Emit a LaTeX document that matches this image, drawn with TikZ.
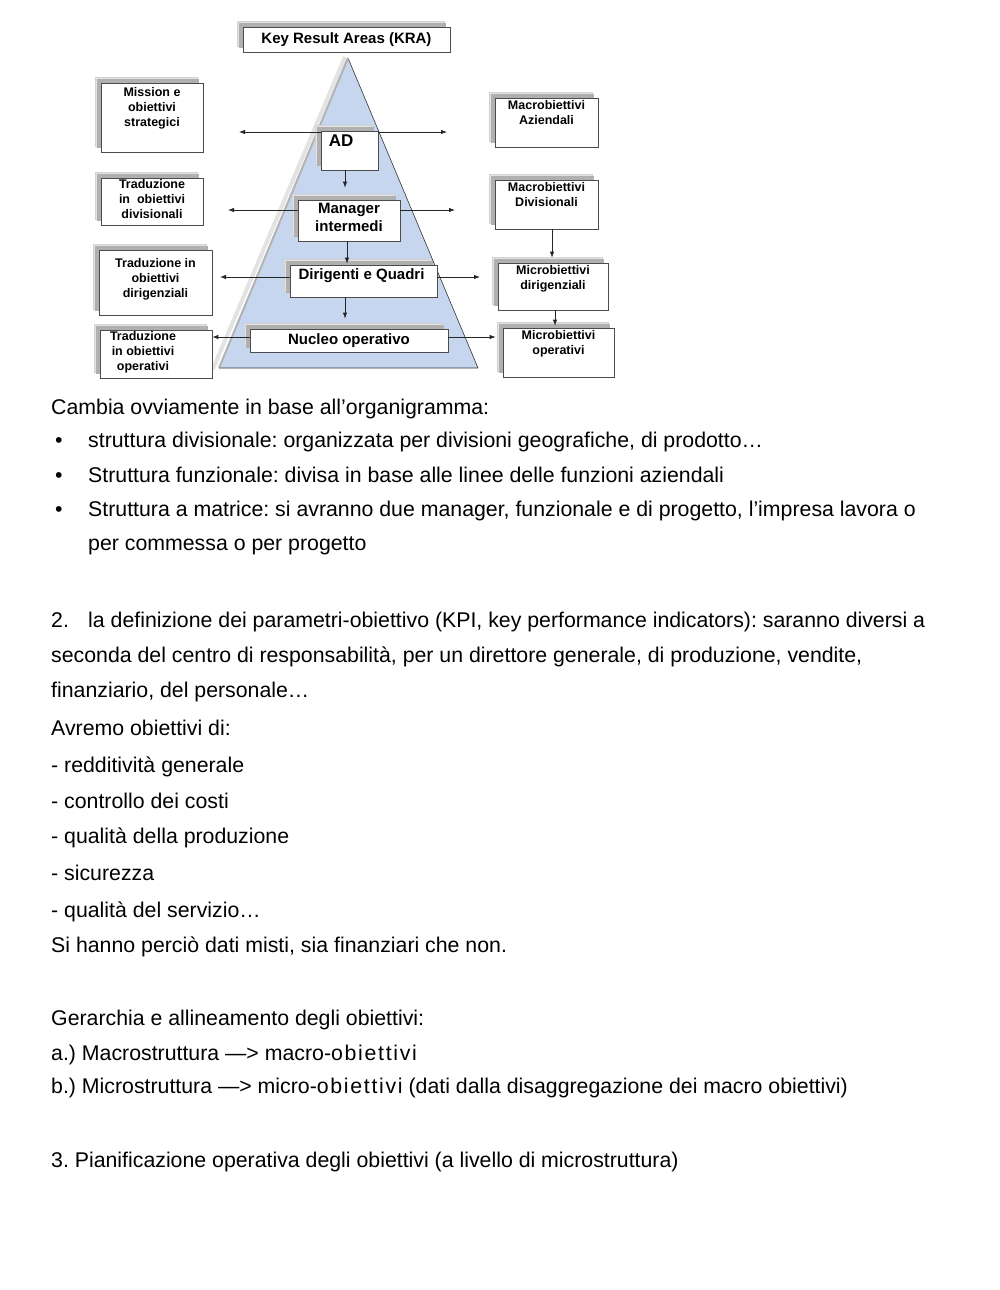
\documentclass[tikz,border=0pt]{standalone}
\usepackage{fontspec}
\setmainfont{Liberation Sans}
\usetikzlibrary{shadows,arrows.meta,calc}
\definecolor{pyr}{RGB}{198,214,238}
\frenchspacing
\begin{document}
\begin{tikzpicture}[x=1pt,y=-1pt,
  sbox/.style={draw=black!70, line width=0.7pt, fill=white, inner sep=0pt,
    copy shadow={shadow xshift=-6pt, shadow yshift=6pt, fill=gray!22, draw=gray!35},
    copy shadow={shadow xshift=-4pt, shadow yshift=4pt, fill=gray!62, draw=none}},
  lbl/.style={font=\bfseries\fontsize{12.5}{15}\selectfont, align=center, inner sep=0pt},
  plbl/.style={font=\bfseries\fontsize{15}{18}\selectfont, align=center, inner sep=0pt},
  arr/.style={draw=black!85, line width=0.8pt, -{Latex[length=6pt,width=4.5pt]}},
  body/.style={anchor=base west, inner sep=0pt, font=\fontsize{21.3}{25}\selectfont},
]
\fill[white] (0,0) rectangle (1000,1290);
\useasboundingbox (0,0) rectangle (1000,1290);

% pyramid
\fill[pyr] (348,58) -- (219,368) -- (478,368) -- cycle;
\draw[black!80, line width=0.6pt] (348,58) -- (478,368) -- (219,368);
\draw[gray!22, line width=4pt] (345,57) -- (213,369);
\draw[gray!60, line width=2pt] (348,58) -- (219,368);

% pyramid boxes
\node[sbox, minimum width=207pt, minimum height=25pt] (kra) at (346.5,39.5) {};
\node[plbl] (kraT) at (kra.center) {Key Result Areas (KRA)};
\node[sbox, minimum width=57pt, minimum height=39pt] (ad) at (349.5,150.5) {};
\node[plbl, font=\bfseries\fontsize{17}{20}\selectfont, anchor=north west] (adT) at ([xshift=8pt,yshift=-4pt]ad.north west) {AD};
\node[sbox, minimum width=102pt, minimum height=41pt] (mgr) at (349,220.5) {};
\node[plbl, anchor=north] (mgrT) at ([yshift=-3pt]mgr.north) {Manager\\intermedi};
\node[sbox, minimum width=147pt, minimum height=32pt] (dq) at (363.5,281) {};
\node[plbl, anchor=north] (dqT) at ([yshift=-4pt,xshift=-2pt]dq.north) {Dirigenti e Quadri};
\node[sbox, minimum width=198pt, minimum height=23pt] (nuc) at (349,340.5) {};
\node[plbl] (nucT) at (nuc.center) {Nucleo operativo};

% left boxes
\node[sbox, minimum width=102pt, minimum height=69pt] (m1) at (152,117.5) {};
\node[lbl, anchor=north] (m1T) at ([yshift=-5pt]m1.north) {Mission e\\obiettivi\\strategici};
\node[sbox, minimum width=102pt, minimum height=47pt] (m2) at (152,201.5) {};
\node[lbl, anchor=north] (m2T) at ([yshift=-2pt]m2.north) {Traduzione\\in\ \ obiettivi\\divisionali};
\node[sbox, minimum width=113pt, minimum height=65pt] (m3) at (155.5,282.5) {};
\node[lbl, anchor=north] (m3T) at ([yshift=-9pt]m3.north) {Traduzione in\\obiettivi\\dirigenziali};
\node[sbox, minimum width=112pt, minimum height=48pt] (m4) at (156,354) {};
\node[lbl, anchor=north] (m4T) at ([yshift=-2pt,xshift=-13pt]m4.north) {Traduzione\\in obiettivi\\operativi};

% right boxes
\node[sbox, minimum width=103pt, minimum height=49pt] (r1) at (546.5,122.5) {};
\node[lbl, anchor=north] (r1T) at ([yshift=-3pt]r1.north) {Macrobiettivi\\Aziendali};
\node[sbox, minimum width=103pt, minimum height=49pt] (r2) at (546.5,204.5) {};
\node[lbl, anchor=north] (r2T) at ([yshift=-3pt]r2.north) {Macrobiettivi\\Divisionali};
\node[sbox, minimum width=110pt, minimum height=47pt] (r3) at (553,286.5) {};
\node[lbl, anchor=north] (r3T) at ([yshift=-3pt]r3.north) {Microbiettivi\\dirigenziali};
\node[sbox, minimum width=111pt, minimum height=49pt] (r4) at (558.5,352.5) {};
\node[lbl, anchor=north] (r4T) at ([yshift=-3pt]r4.north) {Microbiettivi\\operativi};

% free arrow ends
\coordinate (adL) at (239,132);
\coordinate (adR) at (447,132);
\coordinate (mgrL) at (228,210);
\coordinate (mgrR) at (455,210);
\coordinate (dqL) at (220,277);
\coordinate (dqR) at (480,277);

% horizontal arrows
\draw[arr] (ad.west |- adL) -- (adL);
\draw[arr] (ad.east |- adR) -- (adR);
\draw[arr] (mgr.west |- mgrL) -- (mgrL);
\draw[arr] (mgr.east |- mgrR) -- (mgrR);
\draw[arr] (dq.west |- dqL) -- (dqL);
\draw[arr] (dq.east |- dqR) -- (dqR);
\draw[arr] (nuc.west |- 0,337) -- (m4.east |- 0,337);
\draw[arr] (nuc.east |- 0,337) -- ([xshift=-7pt]r4.west |- 0,337);

% vertical arrows
\draw[arr, shorten >=12pt] (345,170) -- (mgr.north -| 345,0);
\draw[arr, shorten >=1pt] (mgr.south -| 347,0) -- (dq.north -| 347,0);
\draw[arr, shorten >=10pt] (dq.south -| 345,0) -- (nuc.north -| 345,0);
\draw[arr, shorten >=5pt] (r2.south -| 552,0) -- (r3.north -| 552,0);
\draw[arr, shorten >=2pt] (r3.south -| 555,0) -- (r4.north -| 555,0);

% body text
\node[body] (t1) at (51,414) {Cambia ovviamente in base all’organigramma:};
\node[body] (b1) at (55,447) {•};
\node[body] (t2) at (88,447) {struttura divisionale: organizzata per divisioni geografiche, di prodotto…};
\node[body] (b2) at (55,482) {•};
\node[body] (t3) at (88,482) {Struttura funzionale: divisa in base alle linee delle funzioni aziendali};
\node[body] (b3) at (55,516) {•};
\node[body] (t4) at (88,516) {Struttura a matrice: si avranno due manager, funzionale e di progetto, l’impresa lavora o};
\node[body] (t5) at (88,550) {per commessa o per progetto};
\node[body] (t6a) at (51,627) {2.};
\node[body] (t6) at (88,627) {la definizione dei parametri-obiettivo (KPI, key performance indicators): saranno diversi a};
\node[body] (t7) at (51,662) {seconda del centro di responsabilità, per un direttore generale, di produzione, vendite,};
\node[body] (t8) at (51,697) {finanziario, del personale…};
\node[body] (t9) at (51,735) {Avremo obiettivi di:};
\node[body] (t10) at (51,772) {- redditività generale};
\node[body] (t11) at (51,808) {- controllo dei costi};
\node[body] (t12) at (51,843) {- qualità della produzione};
\node[body] (t13) at (51,880) {- sicurezza};
\node[body] (t14) at (51,917) {- qualità del servizio…};
\node[body] (t15) at (51,952) {Si hanno perciò dati misti, sia finanziari che non.};
\node[body] (t16) at (51,1025) {Gerarchia e allineamento degli obiettivi:};
\node[body] (t17) at (51,1060) {a.) Macrostruttura —> macro-{\addfontfeature{LetterSpace=8}obiettivi}};
\node[body] (t18) at (51,1093) {b.) Microstruttura —> micro-{\addfontfeature{LetterSpace=8}obiettivi} (dati dalla disaggregazione dei macro obiettivi)};
\node[body] (t19) at (51,1167) {3. Pianificazione operativa degli obiettivi (a livello di microstruttura)};
\end{tikzpicture}
\end{document}
